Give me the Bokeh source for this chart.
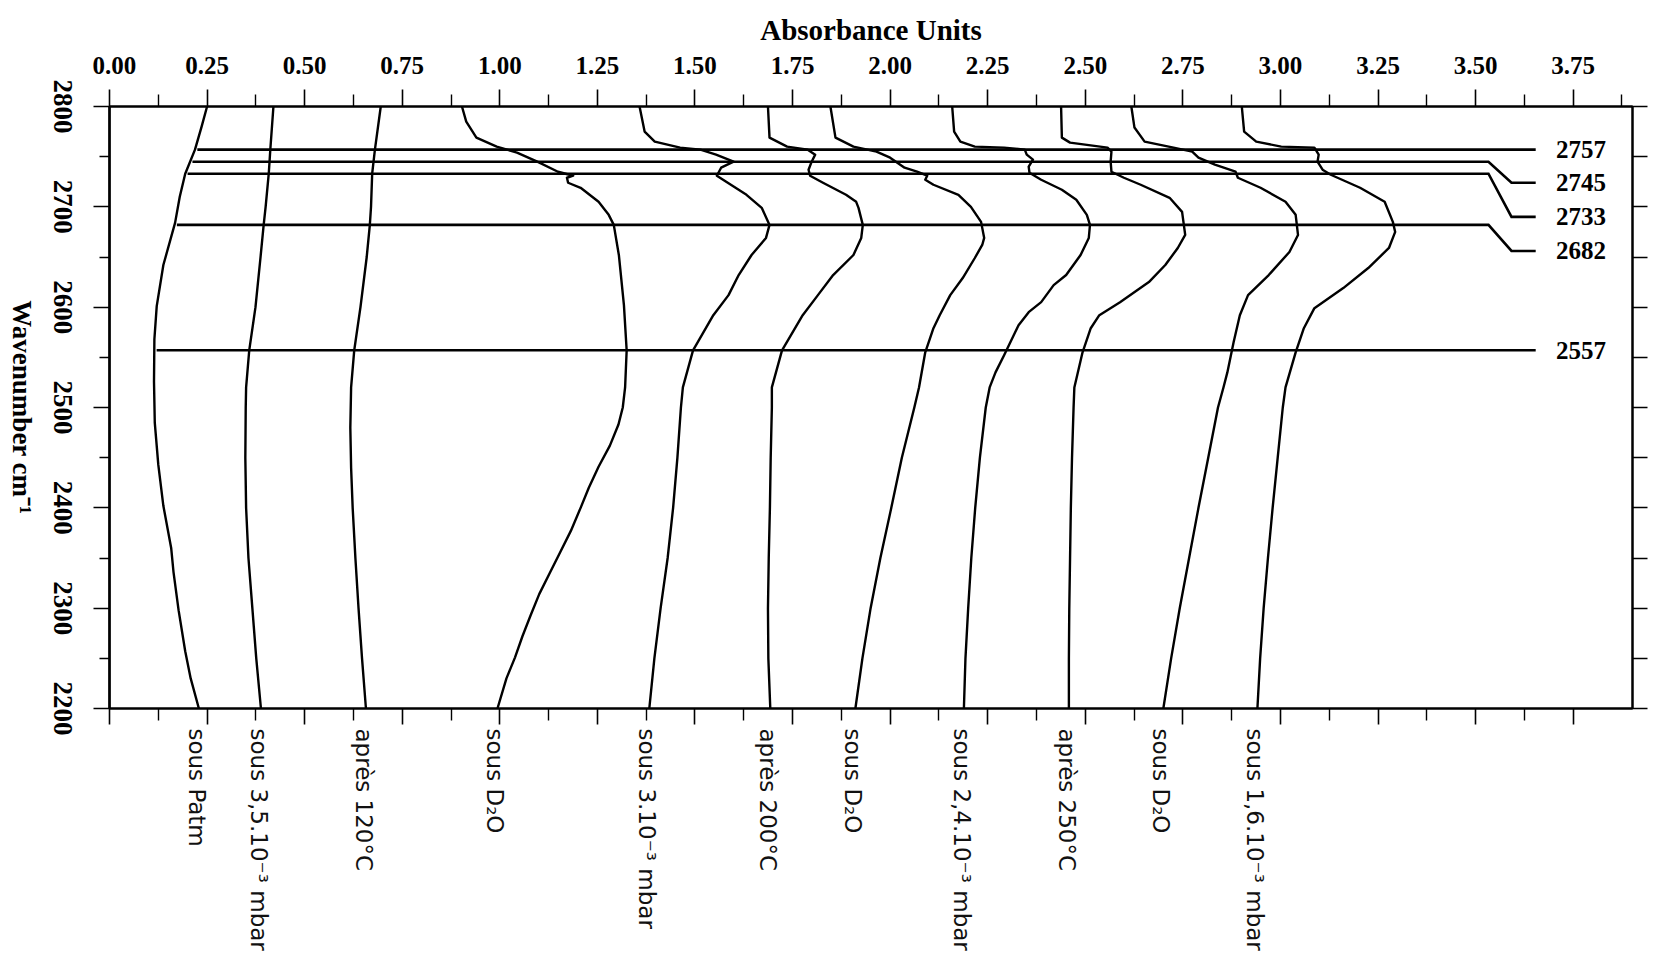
import math
from bokeh.plotting import figure
from bokeh.layouts import row
from bokeh.models import Range1d, LinearAxis, FixedTicker, PrintfTickFormatter
from bokeh.core.properties import value
from bokeh.embed import file_html
from bokeh.resources import INLINE

# ---------------- data ----------------
absorbance_ticks = [0.00, 0.25, 0.50, 0.75, 1.00, 1.25, 1.50, 1.75, 2.00, 2.25, 2.50, 2.75, 3.00, 3.25, 3.50, 3.75]
absorbance_minor = [0.125, 0.375, 0.625, 0.875, 1.125, 1.375, 1.625, 1.875, 2.125, 2.375, 2.625, 2.875, 3.125, 3.375, 3.625]
wavenumber_ticks = [2200, 2300, 2400, 2500, 2600, 2700, 2800]
wavenumber_minor = [2250, 2350, 2450, 2550, 2650, 2750]

curve_labels = ["sous Patm", "sous 3,5.10⁻³ mbar", "après 120°C", "sous D₂O",
                "sous 3.10⁻³ mbar", "après 200°C", "sous D₂O", "sous 2,4.10⁻³ mbar",
                "après 250°C", "sous D₂O", "sous 1,6.10⁻³ mbar"]

wn_c1 = [2800, 2780, 2757, 2733, 2710, 2684, 2642, 2601, 2568, 2526, 2485, 2443, 2402, 2360, 2336, 2298, 2257, 2230, 2200]
ab_c1 = [0.250, 0.236, 0.219, 0.194, 0.180, 0.168, 0.138, 0.121, 0.115, 0.114, 0.116, 0.125, 0.138, 0.158, 0.164, 0.177, 0.194, 0.208, 0.229]

wn_c2 = [2800, 2757, 2733, 2700, 2682, 2650, 2600, 2557, 2520, 2500, 2450, 2400, 2350, 2300, 2250, 2200]
ab_c2 = [0.420, 0.412, 0.408, 0.400, 0.395, 0.387, 0.374, 0.358, 0.350, 0.349, 0.348, 0.350, 0.356, 0.366, 0.376, 0.388]

wn_c3 = [2800, 2757, 2733, 2700, 2682, 2650, 2600, 2557, 2520, 2480, 2440, 2400, 2350, 2300, 2250, 2200]
ab_c3 = [0.695, 0.680, 0.673, 0.670, 0.667, 0.659, 0.643, 0.627, 0.619, 0.617, 0.619, 0.623, 0.630, 0.638, 0.647, 0.657]

wn_c4 = [2800, 2785, 2769, 2760, 2754, 2745, 2735, 2731, 2729, 2724, 2719, 2705, 2692, 2682, 2652, 2602, 2557, 2520,
         2500, 2483, 2462, 2441, 2420, 2400, 2377, 2356, 2335, 2314, 2293, 2272, 2251, 2230, 2200]
ab_c4 = [0.903, 0.914, 0.940, 0.992, 1.044, 1.096, 1.149, 1.188, 1.172, 1.175, 1.207, 1.253, 1.279, 1.292, 1.305, 1.318, 1.325, 1.321,
         1.315, 1.304, 1.282, 1.253, 1.228, 1.207, 1.182, 1.155, 1.128, 1.101, 1.079, 1.058, 1.039, 1.017, 0.994]

wn_c5 = [2800, 2775, 2765, 2759, 2757, 2752, 2745, 2739, 2731, 2725, 2712, 2699, 2682, 2669, 2652, 2632, 2612, 2592, 2557,
         2520, 2500, 2450, 2400, 2350, 2300, 2250, 2200]
ab_c5 = [1.358, 1.371, 1.397, 1.462, 1.514, 1.554, 1.599, 1.567, 1.556, 1.580, 1.632, 1.671, 1.691, 1.682, 1.645, 1.612, 1.586, 1.547, 1.495,
         1.469, 1.464, 1.455, 1.444, 1.430, 1.412, 1.396, 1.383]

wn_c6 = [2800, 2769, 2760, 2757, 2752, 2745, 2737, 2731, 2724, 2712, 2705, 2699, 2682, 2669, 2652, 2632, 2612, 2592, 2557,
         2520, 2500, 2450, 2400, 2350, 2300, 2250, 2200]
ab_c6 = [1.687, 1.691, 1.736, 1.789, 1.808, 1.799, 1.791, 1.795, 1.828, 1.887, 1.913, 1.919, 1.930, 1.926, 1.906, 1.854, 1.815, 1.776, 1.723,
         1.697, 1.697, 1.694, 1.692, 1.689, 1.687, 1.688, 1.693]

wn_c7 = [2800, 2769, 2760, 2755, 2749, 2739, 2735, 2731, 2727, 2722, 2712, 2700, 2685, 2669, 2662, 2649, 2629, 2612, 2592, 2579,
         2555, 2520, 2500, 2450, 2400, 2350, 2300, 2250, 2200]
ab_c7 = [1.847, 1.860, 1.906, 1.965, 2.000, 2.037, 2.069, 2.095, 2.090, 2.111, 2.175, 2.207, 2.233, 2.241, 2.236, 2.217, 2.186, 2.154, 2.127, 2.111,
         2.090, 2.074, 2.062, 2.030, 2.003, 1.975, 1.950, 1.929, 1.911]

wn_c8 = [2800, 2775, 2765, 2760, 2759, 2757, 2752, 2747, 2740, 2734, 2727, 2717, 2707, 2692, 2682, 2669, 2652, 2632, 2622, 2605,
         2595, 2582, 2565, 2552, 2535, 2520, 2500, 2450, 2400, 2350, 2300, 2250, 2200]
ab_c8 = [2.159, 2.164, 2.180, 2.217, 2.292, 2.345, 2.350, 2.366, 2.355, 2.357, 2.387, 2.440, 2.477, 2.504, 2.512, 2.509, 2.488, 2.451, 2.419, 2.387,
         2.355, 2.329, 2.308, 2.292, 2.270, 2.255, 2.245, 2.230, 2.218, 2.208, 2.200, 2.193, 2.189]

wn_c9 = [2800, 2769, 2764, 2759, 2755, 2745, 2735, 2729, 2722, 2709, 2695, 2672, 2659, 2642, 2625, 2605, 2592, 2579, 2555,
         2520, 2500, 2450, 2400, 2350, 2300, 2250, 2200]
ab_c9 = [2.438, 2.440, 2.461, 2.557, 2.567, 2.565, 2.567, 2.599, 2.642, 2.716, 2.748, 2.756, 2.737, 2.705, 2.663, 2.589, 2.536, 2.514, 2.493,
         2.472, 2.470, 2.466, 2.463, 2.461, 2.459, 2.458, 2.458]

wn_c10 = [2800, 2779, 2765, 2759, 2755, 2749, 2742, 2735, 2729, 2719, 2705, 2692, 2672, 2655, 2632, 2612, 2592, 2565, 2535,
          2520, 2500, 2450, 2400, 2350, 2300, 2250, 2200]
ab_c10 = [2.618, 2.626, 2.652, 2.726, 2.774, 2.790, 2.832, 2.885, 2.891, 2.949, 3.013, 3.039, 3.045, 3.023, 2.970, 2.917, 2.896, 2.880, 2.864,
          2.854, 2.840, 2.815, 2.790, 2.766, 2.742, 2.720, 2.700]

wn_c11 = [2800, 2775, 2765, 2760, 2759, 2752, 2745, 2737, 2732, 2719, 2705, 2685, 2675, 2659, 2639, 2619, 2599, 2579, 2555,
          2520, 2500, 2450, 2400, 2350, 2300, 2250, 2200]
ab_c11 = [2.901, 2.907, 2.938, 3.002, 3.087, 3.098, 3.095, 3.108, 3.129, 3.204, 3.267, 3.288, 3.294, 3.278, 3.225, 3.161, 3.087, 3.060, 3.039,
          3.013, 3.006, 2.993, 2.980, 2.968, 2.957, 2.948, 2.941]

peak_wavenumbers = [2757, 2745, 2733, 2682, 2557]
peak_labels = ["2757", "2745", "2733", "2682", "2557"]

curves_wn = [wn_c1, wn_c2, wn_c3, wn_c4, wn_c5, wn_c6, wn_c7, wn_c8, wn_c9, wn_c10, wn_c11]
curves_ab = [ab_c1, ab_c2, ab_c3, ab_c4, ab_c5, ab_c6, ab_c7, ab_c8, ab_c9, ab_c10, ab_c11]

# ---------------- layout / style ----------------
SERIF = "Liberation Serif"
HAND = "DejaVu Sans"
callout_drop = [0, -21, -43, -26, 0]     # vertical shift of each callout end (cm-1)
BEND_START, BEND_END, LINE_END, TEXT_X = 3.533, 3.592, 3.654, 3.706
LEFT_W = 92            # side panel holding the wavenumber labels
SIDE_FRAME = 6         # tiny frame of the side panel
FRAME_LEFT = 109       # x of the plot frame on the page
FRAME_RIGHT = 1632
TOTAL_H = 960
TOP_B, BOTTOM_B = 106, 252
MAIN_W = FRAME_RIGHT + 17 - LEFT_W

yr = Range1d(2200, 2800)

p = figure(width=MAIN_W, height=TOTAL_H,
           x_range=Range1d(0, 3.902), y_range=yr,
           output_backend="svg", toolbar_location=None,
           x_axis_location="above", y_axis_location="left",
           min_border_left=FRAME_LEFT - LEFT_W, min_border_right=17,
           min_border_top=TOP_B, min_border_bottom=BOTTOM_B)
p.grid.visible = False
p.outline_line_color = "black"
p.outline_line_width = 2
p.background_fill_color = "white"
p.border_fill_color = "white"

def style_common(ax):
    ax.axis_line_color = "black"
    ax.axis_line_width = 2
    ax.major_tick_line_color = "black"
    ax.minor_tick_line_color = "black"
    ax.major_tick_line_width = 1.6
    ax.minor_tick_line_width = 1.4
    ax.major_tick_in = 0
    ax.minor_tick_in = 0

# top axis
top = p.xaxis[0]
style_common(top)
top.ticker = FixedTicker(ticks=absorbance_ticks, minor_ticks=absorbance_minor + [3.875])
top.formatter = PrintfTickFormatter(format="%.2f")
top.major_tick_out = 17
top.minor_tick_out = 12
top.major_label_standoff = 16
top.major_label_text_font = SERIF
top.major_label_text_font_style = "bold"
top.major_label_text_font_size = "25px"
top.major_label_text_color = "black"
top.axis_label = "Absorbance Units"
top.axis_label_text_font = SERIF
top.axis_label_text_font_style = "bold"
top.axis_label_text_font_size = "29px"
top.axis_label_text_color = "black"
top.axis_label_standoff = 8

# bottom axis (ticks only)
bottom = LinearAxis(ticker=FixedTicker(ticks=absorbance_ticks, minor_ticks=absorbance_minor),
                    major_label_overrides={t: "" for t in absorbance_ticks})
style_common(bottom)
bottom.major_tick_out = 16
bottom.minor_tick_out = 12
bottom.major_label_standoff = 0
bottom.major_label_text_font_size = "1px"
p.add_layout(bottom, "below")

# bottom labels (handwritten notes) on a second, line-less axis
label_x = [round(ab[-1] - 0.006, 3) for ab in curves_ab]
notes = LinearAxis(ticker=FixedTicker(ticks=label_x, minor_ticks=[]),
                   major_label_overrides=dict(zip(label_x, curve_labels)))
notes.axis_line_color = None
notes.major_tick_line_color = None
notes.minor_tick_line_color = None
notes.major_tick_out = 0
notes.major_tick_in = 0
notes.minor_tick_out = 0
notes.minor_tick_in = 0
notes.major_label_orientation = -math.pi / 2
notes.major_label_standoff = 4
notes.major_label_text_font = HAND
notes.major_label_text_font_size = "23px"
notes.major_label_text_color = "#111111"
p.add_layout(notes, "below")

# left axis of the plot: ticks only (labels are drawn by the side panel)
left = p.yaxis[0]
style_common(left)
left.axis_line_width = 2.5
left.ticker = FixedTicker(ticks=wavenumber_ticks, minor_ticks=wavenumber_minor)
left.major_label_overrides = {t: "" for t in wavenumber_ticks}
left.major_label_text_font_size = "1px"
left.major_label_standoff = 0
left.major_tick_out = 16
left.minor_tick_out = 10

# right axis (ticks only)
right_ticks = sorted(wavenumber_ticks + wavenumber_minor)
right = LinearAxis(ticker=FixedTicker(ticks=right_ticks, minor_ticks=[]),
                   major_label_overrides={t: "" for t in right_ticks})
style_common(right)
right.major_tick_out = 15
right.minor_tick_out = 0
right.major_label_standoff = 0
right.major_label_text_font_size = "1px"
p.add_layout(right, "right")

# spectra
for wn, ab in zip(curves_wn, curves_ab):
    p.line(x=ab, y=wn, line_color="black", line_width=2.4, line_join="round", line_cap="round")

# peak marker lines with callouts
def interp_curve1(w):
    pts = list(zip(wn_c1, ab_c1))
    for (w0, a0), (w1, a1) in zip(pts[:-1], pts[1:]):
        if w1 <= w <= w0:
            t = (w0 - w) / (w0 - w1)
            return a0 + t * (a1 - a0)
    return ab_c1[0]

xs, ys, tx, ty = [], [], [], []
for w, d in zip(peak_wavenumbers, callout_drop):
    x0 = interp_curve1(w) + 0.006
    if d == 0:
        xs.append([x0, LINE_END]); ys.append([w, w])
    else:
        xs.append([x0, BEND_START, BEND_END, LINE_END]); ys.append([w, w, w + d, w + d])
    tx.append(TEXT_X); ty.append(w + d)
p.multi_line(xs=xs, ys=ys, line_color="black", line_width=2.6, line_join="miter")
p.text(x=tx, y=ty, text=peak_labels, text_font=value(SERIF), text_font_style="bold",
       text_font_size="25px", text_color="black", text_align="left", text_baseline="middle")

# side panel on the left: wavenumber tick labels and axis title, read top-to-bottom
side = figure(width=LEFT_W, height=TOTAL_H, x_range=Range1d(0, 1), y_range=yr,
              output_backend="svg", toolbar_location=None,
              x_axis_location=None, y_axis_location=None,
              min_border_left=0, min_border_right=LEFT_W - SIDE_FRAME,
              min_border_top=TOP_B, min_border_bottom=BOTTOM_B)
side.grid.visible = False
side.outline_line_color = None
side.background_fill_color = "white"
side.border_fill_color = "white"

title_ax = LinearAxis(ticker=FixedTicker(ticks=[], minor_ticks=[]))
title_ax.axis_line_color = None
title_ax.major_tick_line_color = None
title_ax.minor_tick_line_color = None
title_ax.major_tick_out = 0
title_ax.minor_tick_out = 0
title_ax.major_label_standoff = 0
title_ax.axis_label = "Wavenumber cm⁻¹"
title_ax.axis_label_standoff = 0
title_ax.axis_label_text_font = SERIF
title_ax.axis_label_text_font_style = "bold"
title_ax.axis_label_text_font_size = "27px"
title_ax.axis_label_text_color = "black"
side.add_layout(title_ax, "right")

tick_lab_ax = LinearAxis(ticker=FixedTicker(ticks=wavenumber_ticks, minor_ticks=[]),
                         formatter=PrintfTickFormatter(format="%d"))
tick_lab_ax.axis_line_color = None
tick_lab_ax.major_tick_line_color = None
tick_lab_ax.minor_tick_line_color = None
tick_lab_ax.major_tick_out = 0
tick_lab_ax.minor_tick_out = 0
tick_lab_ax.major_label_orientation = "vertical"
tick_lab_ax.major_label_standoff = 14
tick_lab_ax.major_label_text_font = SERIF
tick_lab_ax.major_label_text_font_style = "bold"
tick_lab_ax.major_label_text_font_size = "27px"
tick_lab_ax.major_label_text_color = "black"
side.add_layout(tick_lab_ax, "right")

layout = row(side, p)
open("out.html", "w").write(file_html(layout, INLINE))
